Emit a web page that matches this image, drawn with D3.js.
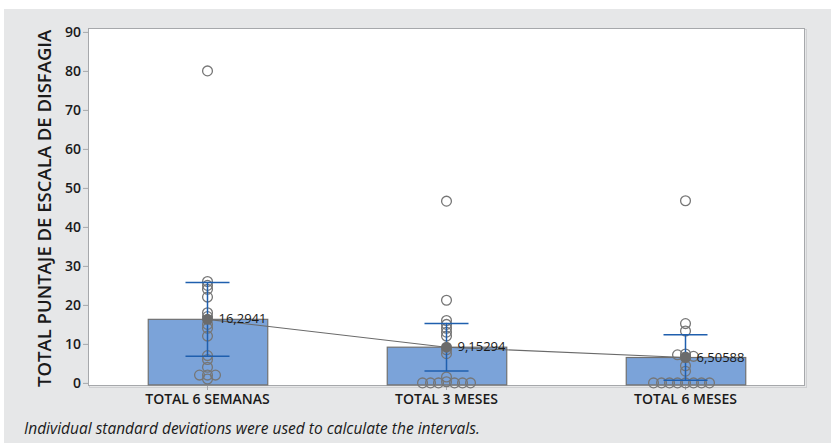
<!DOCTYPE html>
<html>
<head>
<meta charset="utf-8">
<script src="https://cdn.jsdelivr.net/npm/d3@7"></script>
<style>
  html, body { margin: 0; padding: 0; background: #ffffff; }
  svg { display: block; }
</style>
</head>
<body>
<svg id="chart" width="831" height="443"></svg>
<script>
// Categories and summary values
const categories = ["TOTAL 6 SEMANAS", "TOTAL 3 MESES", "TOTAL 6 MESES"];
const means = [16.2941, 9.15294, 6.50588];
const meanLabels = ["16,2941", "9,15294", "6,50588"];
const ciLower = [6.84, 3.05, 0.66];
const ciUpper = [25.74, 15.25, 12.36];

// Individual observations per group
const valuesSemanas6 = [80, 26, 25, 24, 22, 18, 17, 15, 14, 12, 7, 6, 4, 2, 2, 2, 1];
const valuesMeses3 = [46.6, 21.2, 16, 15, 14, 13, 12, 8.5, 7.5, 1.5, 0.3, 0, 0, 0, 0, 0, 0];
const valuesMeses6 = [46.7, 15.2, 13.3, 7.4, 7.2, 6.8, 6.6, 4.4, 3.0, 0, 0, 0, 0, 0, 0, 0, 0];
const groupValues = [valuesSemanas6, valuesMeses3, valuesMeses6];

const yTicks = [0, 10, 20, 30, 40, 50, 60, 70, 80, 90];
const yTitle = "TOTAL PUNTAJE DE ESCALA DE DISFAGIA";
const footnote = "Individual standard deviations were used to calculate the intervals.";

const svg = d3.select("#chart");
const W = 831, H = 443;
const plot = { left: 88, right: 805, top: 28, bottom: 386 };
const FONT = "'Open Sans', sans-serif";

// Panel background
svg.append("rect").attr("x", 4).attr("y", 9).attr("width", W - 4).attr("height", H - 9)
  .attr("fill", "#e6e7e8");

const y = d3.scaleLinear().domain([-0.8, 91]).range([plot.bottom, plot.top]);
const x = d3.scaleBand().domain(categories).range([plot.left, plot.right])
  .paddingInner(0.5).paddingOuter(0.25);
const cx = c => x(c) + x.bandwidth() / 2;

// Plot area
svg.append("rect").attr("x", plot.left + 1.5).attr("y", plot.top + 1.5)
  .attr("width", plot.right - plot.left).attr("height", plot.bottom - plot.top)
  .attr("fill", "none").attr("stroke", "#cfd0d2").attr("stroke-width", 1);
svg.append("rect").attr("x", plot.left + 0.5).attr("y", plot.top + 0.5)
  .attr("width", plot.right - plot.left - 1).attr("height", plot.bottom - plot.top - 1)
  .attr("fill", "#ffffff").attr("stroke", "#a6a8ab").attr("stroke-width", 1);

// Y axis
const yAxis = d3.axisLeft(y).tickValues(yTicks).tickSize(5).tickPadding(2);
const gy = svg.append("g").attr("transform", `translate(${plot.left},0)`).call(yAxis);
gy.select(".domain").remove();
gy.selectAll(".tick line").attr("stroke", "#a6a8ab");
gy.selectAll(".tick text").attr("fill", "#1a1a1a")
  .style("font-family", FONT).style("font-size", "14px").style("font-weight", "600");

// X axis
const xAxis = d3.axisBottom(x).tickSize(4).tickPadding(4);
const gx = svg.append("g").attr("transform", `translate(0,${plot.bottom})`).call(xAxis);
gx.select(".domain").remove();
gx.selectAll(".tick line").attr("stroke", "#a6a8ab");
gx.selectAll(".tick text").attr("fill", "#1a1a1a")
  .style("font-family", FONT).style("font-size", "14px").style("font-weight", "600");

// Y axis title
svg.append("text")
  .attr("transform", `translate(51,${(y(0) + y(90)) / 2 + 1}) rotate(-90)`)
  .attr("text-anchor", "middle")
  .attr("fill", "#1a1a1a")
  .style("font-family", FONT).style("font-size", "18.5px").style("font-weight", "600")
  .text(yTitle);

// Bars
svg.append("g").selectAll("rect").data(categories).join("rect")
  .attr("x", c => x(c) + 0.5)
  .attr("y", (c, i) => y(means[i]))
  .attr("width", x.bandwidth())
  .attr("height", (c, i) => y(0) - y(means[i]) + 2)
  .attr("fill", "#7ba3d9").attr("stroke", "#707070").attr("stroke-width", 1.2);

// Individual points, dodged sideways where values coincide
const pts = [];
groupValues.forEach((vals, gi) => {
  const placed = [];
  const sorted = vals.slice().sort((a, b) => b - a);
  sorted.forEach(v => {
    const py = y(v);
    const offsets = [0, -8, 8, -16, 16, -24, 24, -32, 32, -40, 40];
    let off = 0;
    for (const o of offsets) {
      if (!placed.some(p => Math.abs(p.py - py) < 3 && Math.abs(p.o - o) < 7)) { off = o; break; }
    }
    placed.push({ py, o: off });
    pts.push({ gi, v, off });
  });
});
svg.append("g").selectAll("circle").data(pts).join("circle")
  .attr("cx", d => cx(categories[d.gi]) + d.off)
  .attr("cy", d => y(d.v))
  .attr("r", 4.9)
  .attr("fill", "none").attr("stroke", "#767676").attr("stroke-width", 1.3);

// Interval bars
const eb = svg.append("g").attr("stroke", "#1f5fae").attr("stroke-width", 1.5);
categories.forEach((c, i) => {
  eb.append("line").attr("x1", cx(c)).attr("x2", cx(c)).attr("y1", y(ciLower[i])).attr("y2", y(ciUpper[i]));
  [ciLower[i], ciUpper[i]].forEach(v => {
    eb.append("line").attr("x1", cx(c) - 22).attr("x2", cx(c) + 22).attr("y1", y(v)).attr("y2", y(v));
  });
});

// Line connecting means
svg.append("path")
  .datum(categories.map((c, i) => [cx(c), y(means[i])]))
  .attr("d", d3.line())
  .attr("fill", "none").attr("stroke", "#6a6a6a").attr("stroke-width", 1.1);

// Mean markers and labels
svg.append("g").selectAll("circle").data(categories).join("circle")
  .attr("cx", c => cx(c)).attr("cy", (c, i) => y(means[i])).attr("r", 5.5)
  .attr("fill", "#6b6b6b");
svg.append("g").selectAll("text").data(categories).join("text")
  .attr("x", c => cx(c) + 11).attr("y", (c, i) => y(means[i]) + 4)
  .attr("fill", "#1a1a1a")
  .style("font-family", FONT).style("font-size", "13px")
  .text((c, i) => meanLabels[i]);

// Footnote
svg.append("text").attr("x", 24).attr("y", 434)
  .attr("fill", "#1a1a1a")
  .style("font-family", FONT).style("font-size", "15.5px").style("font-style", "italic")
  .text(footnote);
</script>
</body>
</html>
